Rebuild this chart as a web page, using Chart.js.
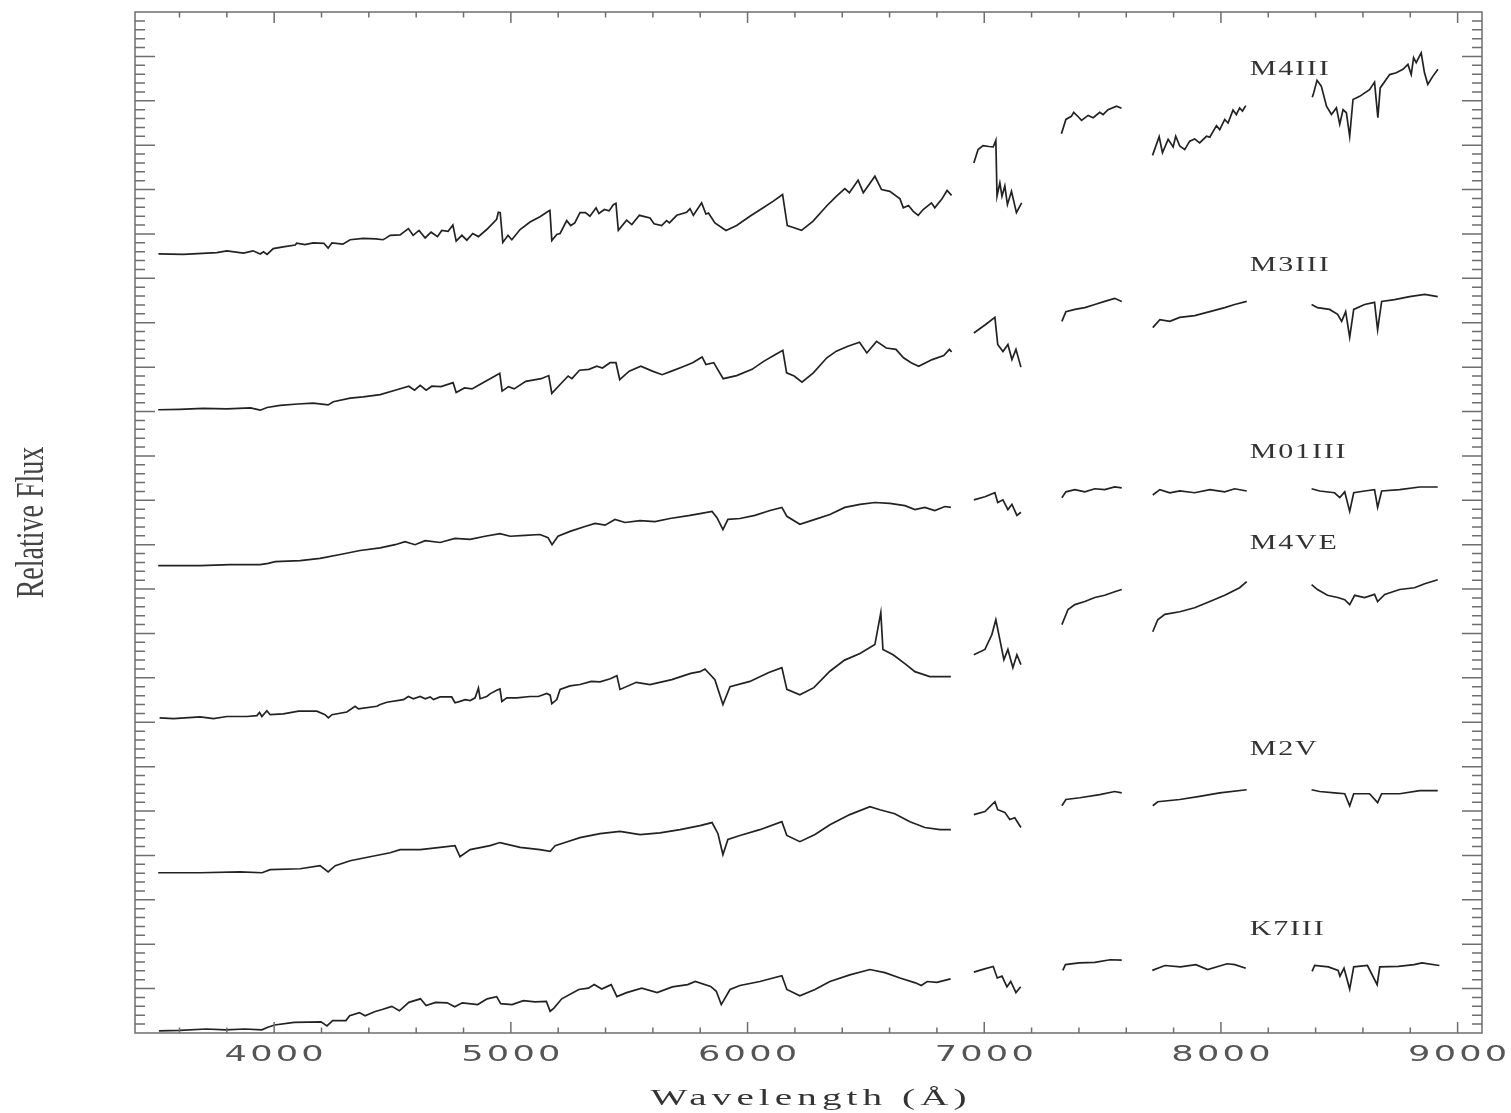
<!DOCTYPE html>
<html>
<head>
<meta charset="utf-8">
<script src="https://cdn.jsdelivr.net/npm/chart.js@4.4.1/dist/chart.umd.min.js"></script>
<style>
  html, body { margin: 0; padding: 0; background: #fff; }
  canvas { display: block; }
</style>
</head>
<body>
<canvas id="spectra" width="1511" height="1113"></canvas>
<script>
// [wavelength (Å), relative flux + offset], one sub-array per observed segment
const m4iii = [
  [[3511,17.55],[3616,17.54],[3758,17.58],[3800,17.62],[3870,17.57],[3911,17.62],[3941,17.55],[3955,17.60],[3970,17.54],[3996,17.67],[4038,17.71],[4089,17.75],[4095,17.79],[4130,17.76],[4165,17.80],[4210,17.79],[4228,17.68],[4244,17.80],[4290,17.77],[4321,17.87],[4376,17.90],[4430,17.89],[4460,17.87],[4470,17.90],[4490,17.97],[4532,17.98],[4567,18.12],[4587,17.97],[4612,18.08],[4638,17.91],[4663,18.04],[4690,17.94],[4708,18.08],[4735,18.06],[4755,18.20],[4769,17.84],[4793,17.97],[4814,17.86],[4839,18.01],[4863,17.94],[4898,18.10],[4940,18.33],[4947,18.49],[4955,18.48],[4966,17.81],[4988,17.97],[5004,17.87],[5039,18.10],[5081,18.27],[5123,18.39],[5158,18.51],[5165,18.53],[5173,17.85],[5194,17.99],[5208,18.01],[5236,18.30],[5253,18.19],[5270,18.25],[5292,18.48],[5315,18.48],[5334,18.40],[5360,18.59],[5372,18.46],[5395,18.55],[5415,18.52],[5433,18.66],[5444,18.69],[5454,18.08],[5489,18.31],[5511,18.21],[5543,18.42],[5588,18.36],[5605,18.23],[5637,18.19],[5658,18.30],[5670,18.25],[5701,18.42],[5743,18.49],[5757,18.57],[5771,18.42],[5806,18.70],[5824,18.45],[5835,18.47],[5862,18.25],[5909,18.08],[5954,18.19],[6010,18.40],[6066,18.59],[6109,18.74],[6148,18.89],[6168,18.19],[6190,18.15],[6228,18.08],[6277,18.29],[6334,18.63],[6376,18.85],[6411,19.02],[6430,18.93],[6467,19.21],[6489,18.93],[6538,19.30],[6566,19.00],[6601,18.96],[6644,18.79],[6658,18.59],[6680,18.64],[6700,18.51],[6721,18.42],[6742,18.55],[6777,18.70],[6791,18.59],[6820,18.78],[6843,18.98],[6862,18.87]],
  [[6956,19.60],[6974,19.90],[6995,19.99],[7020,19.97],[7038,19.96],[7049,20.11],[7054,18.85],[7066,19.15],[7075,18.85],[7087,19.08],[7098,18.66],[7115,18.96],[7136,18.48],[7158,18.70]],
  [[7326,20.26],[7345,20.58],[7368,20.65],[7378,20.74],[7397,20.64],[7411,20.56],[7439,20.67],[7460,20.62],[7488,20.74],[7502,20.69],[7523,20.80],[7559,20.88],[7580,20.83]],
  [[7711,19.77],[7739,20.19],[7753,19.83],[7777,20.13],[7798,19.96],[7809,20.20],[7826,19.98],[7847,19.90],[7868,20.09],[7889,20.14],[7910,20.05],[7939,20.20],[7953,20.18],[7981,20.44],[7995,20.35],[8016,20.58],[8030,20.50],[8051,20.79],[8065,20.69],[8079,20.84],[8091,20.77],[8105,20.89]],
  [[8386,21.08],[8392,21.18],[8406,21.46],[8424,21.33],[8446,20.88],[8467,20.69],[8488,20.84],[8502,20.47],[8516,20.80],[8530,20.73],[8544,20.20],[8558,21.03],[8586,21.10],[8628,21.25],[8649,21.42],[8663,20.62],[8673,21.29],[8713,21.59],[8741,21.63],[8769,21.71],[8790,21.82],[8804,21.59],[8814,21.97],[8825,21.86],[8846,22.08],[8860,21.63],[8874,21.37],[8895,21.55],[8917,21.71]]
];

const m3iii = [
  [[3510,14.04],[3600,14.05],[3700,14.07],[3800,14.06],[3900,14.08],[3941,14.03],[3970,14.09],[4025,14.14],[4100,14.17],[4165,14.19],[4228,14.15],[4250,14.22],[4321,14.30],[4376,14.33],[4448,14.38],[4511,14.48],[4569,14.57],[4593,14.48],[4617,14.59],[4642,14.48],[4666,14.57],[4705,14.56],[4756,14.65],[4769,14.43],[4804,14.53],[4836,14.51],[4869,14.61],[4933,14.80],[4953,14.86],[4963,14.46],[4990,14.56],[5014,14.51],[5063,14.68],[5128,14.74],[5160,14.81],[5173,14.41],[5201,14.57],[5242,14.80],[5258,14.74],[5290,14.93],[5330,14.95],[5363,15.02],[5387,14.98],[5419,15.10],[5444,15.10],[5460,14.72],[5500,14.91],[5549,15.02],[5598,14.91],[5639,14.83],[5679,14.91],[5727,15.01],[5768,15.10],[5808,15.23],[5824,15.06],[5857,15.10],[5897,14.74],[5954,14.81],[6019,14.95],[6068,15.13],[6116,15.28],[6149,15.38],[6165,14.87],[6197,14.80],[6230,14.66],[6278,14.87],[6335,15.21],[6375,15.36],[6424,15.47],[6473,15.56],[6504,15.32],[6545,15.58],[6586,15.43],[6627,15.40],[6659,15.21],[6691,15.10],[6723,15.02],[6780,15.17],[6829,15.26],[6853,15.40],[6862,15.34]],
  [[6956,15.77],[7003,15.95],[7045,16.12],[7057,15.51],[7079,15.35],[7100,15.51],[7117,15.17],[7134,15.40],[7155,15.00]],
  [[7328,16.03],[7345,16.25],[7383,16.30],[7425,16.34],[7467,16.41],[7509,16.48],[7551,16.55],[7581,16.48]],
  [[7712,15.89],[7742,16.07],[7784,16.03],[7826,16.12],[7889,16.16],[7953,16.25],[8016,16.34],[8058,16.41],[8109,16.48]],
  [[8383,16.41],[8408,16.34],[8459,16.30],[8493,16.19],[8510,16.03],[8527,16.25],[8544,15.67],[8561,16.30],[8607,16.41],[8649,16.46],[8662,15.84],[8679,16.48],[8734,16.52],[8797,16.59],[8861,16.64],[8916,16.59]]
];

const m01iii = [
  [[3510,10.53],[3687,10.53],[3814,10.55],[3941,10.55],[3975,10.58],[4004,10.62],[4110,10.64],[4194,10.69],[4279,10.78],[4363,10.87],[4448,10.93],[4511,11.00],[4553,11.07],[4595,11.00],[4638,11.09],[4701,11.05],[4764,11.14],[4828,11.12],[4891,11.19],[4954,11.25],[4997,11.19],[5060,11.21],[5123,11.23],[5157,11.16],[5174,11.00],[5199,11.19],[5250,11.30],[5313,11.41],[5356,11.48],[5398,11.44],[5440,11.57],[5482,11.50],[5546,11.54],[5609,11.52],[5672,11.59],[5757,11.66],[5799,11.70],[5850,11.75],[5871,11.61],[5896,11.34],[5917,11.57],[5968,11.59],[6031,11.66],[6095,11.77],[6145,11.84],[6166,11.64],[6221,11.46],[6285,11.57],[6348,11.68],[6411,11.84],[6475,11.91],[6538,11.95],[6601,11.93],[6665,11.88],[6707,11.79],[6749,11.84],[6791,11.77],[6834,11.86],[6859,11.84]],
  [[6956,12.01],[7003,12.08],[7045,12.17],[7057,11.95],[7079,12.01],[7100,11.79],[7117,11.91],[7138,11.66],[7155,11.73]],
  [[7328,12.06],[7345,12.19],[7383,12.24],[7425,12.19],[7467,12.26],[7509,12.24],[7551,12.30],[7581,12.28]],
  [[7712,12.12],[7742,12.24],[7784,12.17],[7826,12.21],[7889,12.17],[7953,12.24],[8016,12.19],[8058,12.26],[8109,12.21]],
  [[8383,12.26],[8417,12.21],[8480,12.17],[8502,12.06],[8523,12.19],[8544,11.75],[8561,12.17],[8607,12.21],[8649,12.24],[8662,11.84],[8679,12.21],[8755,12.24],[8840,12.30],[8916,12.30]]
];

const m4ve = [
  [[3516,7.10],[3575,7.08],[3687,7.12],[3744,7.08],[3800,7.13],[3885,7.13],[3927,7.15],[3938,7.22],[3948,7.13],[3969,7.26],[3983,7.17],[4039,7.19],[4103,7.25],[4180,7.25],[4215,7.17],[4229,7.10],[4244,7.17],[4307,7.23],[4342,7.36],[4356,7.30],[4434,7.36],[4448,7.40],[4476,7.45],[4546,7.51],[4567,7.58],[4588,7.53],[4617,7.58],[4638,7.53],[4659,7.57],[4673,7.51],[4701,7.57],[4750,7.57],[4764,7.44],[4785,7.47],[4807,7.51],[4828,7.49],[4849,7.55],[4863,7.77],[4870,7.53],[4898,7.58],[4912,7.64],[4940,7.72],[4954,7.75],[4962,7.47],[4983,7.55],[5025,7.55],[5081,7.58],[5116,7.58],[5152,7.65],[5166,7.61],[5173,7.42],[5194,7.51],[5208,7.74],[5250,7.82],[5292,7.85],[5340,7.92],[5377,7.91],[5420,7.98],[5448,8.05],[5461,7.74],[5530,7.90],[5588,7.85],[5680,7.96],[5760,8.10],[5799,8.14],[5820,8.20],[5862,7.96],[5896,7.40],[5926,7.80],[6010,7.92],[6090,8.12],[6145,8.23],[6166,7.74],[6221,7.62],[6280,7.78],[6348,8.15],[6410,8.40],[6475,8.55],[6538,8.75],[6563,9.47],[6572,8.64],[6615,8.52],[6670,8.30],[6707,8.14],[6770,8.03],[6859,8.03]],
  [[6956,8.52],[7003,8.64],[7032,8.97],[7049,9.31],[7066,8.86],[7083,8.41],[7100,8.64],[7121,8.23],[7138,8.52],[7155,8.30]],
  [[7328,9.20],[7354,9.54],[7383,9.65],[7425,9.72],[7467,9.81],[7509,9.86],[7551,9.94],[7581,9.99]],
  [[7712,9.04],[7733,9.31],[7763,9.43],[7826,9.49],[7889,9.58],[7953,9.72],[8016,9.86],[8079,10.03],[8109,10.17]],
  [[8383,10.10],[8408,9.99],[8450,9.86],[8493,9.81],[8523,9.76],[8544,9.65],[8565,9.86],[8607,9.81],[8649,9.88],[8662,9.72],[8692,9.88],[8755,9.99],[8818,10.03],[8861,10.12],[8916,10.21]]
];

const m2v = [
  [[3510,3.61],[3687,3.61],[3856,3.63],[3949,3.61],[3983,3.68],[4110,3.70],[4194,3.77],[4228,3.63],[4258,3.77],[4321,3.88],[4405,3.97],[4490,4.06],[4532,4.13],[4617,4.13],[4701,4.18],[4764,4.22],[4785,3.97],[4828,4.13],[4912,4.22],[4954,4.29],[5039,4.18],[5123,4.13],[5166,4.09],[5187,4.22],[5229,4.29],[5292,4.40],[5377,4.49],[5461,4.54],[5546,4.47],[5630,4.51],[5715,4.58],[5799,4.67],[5850,4.74],[5875,4.49],[5896,4.02],[5917,4.36],[5968,4.45],[6052,4.58],[6145,4.76],[6166,4.45],[6221,4.31],[6285,4.47],[6348,4.69],[6432,4.92],[6517,5.10],[6559,5.03],[6622,4.94],[6686,4.76],[6749,4.63],[6813,4.58],[6859,4.58]],
  [[6956,4.92],[7003,4.99],[7045,5.21],[7057,5.03],[7087,4.97],[7108,4.81],[7129,4.85],[7155,4.63]],
  [[7328,5.12],[7345,5.26],[7404,5.30],[7488,5.37],[7551,5.44],[7581,5.41]],
  [[7712,5.12],[7733,5.21],[7826,5.26],[7910,5.33],[7995,5.41],[8109,5.48]],
  [[8383,5.48],[8417,5.44],[8480,5.41],[8523,5.39],[8544,5.12],[8561,5.39],[8628,5.39],[8662,5.19],[8679,5.39],[8755,5.39],[8840,5.46],[8916,5.46]]
];

const k7iii = [
  [[3513,0.05],[3602,0.06],[3713,0.09],[3795,0.07],[3876,0.09],[3948,0.07],[3973,0.13],[4002,0.18],[4084,0.24],[4198,0.25],[4223,0.16],[4247,0.28],[4303,0.28],[4319,0.39],[4360,0.46],[4384,0.39],[4424,0.48],[4456,0.53],[4497,0.60],[4529,0.50],[4569,0.69],[4618,0.77],[4642,0.62],[4682,0.69],[4731,0.68],[4763,0.59],[4795,0.68],[4860,0.64],[4900,0.77],[4940,0.82],[4957,0.66],[5005,0.64],[5053,0.73],[5102,0.70],[5150,0.71],[5166,0.49],[5182,0.56],[5215,0.77],[5287,0.98],[5328,1.01],[5352,1.09],[5384,0.99],[5408,1.05],[5424,1.09],[5448,0.82],[5489,0.91],[5553,1.01],[5618,0.91],[5682,1.04],[5747,1.09],[5779,1.16],[5844,1.05],[5868,0.94],[5889,0.64],[5926,0.98],[5968,1.07],[6052,1.16],[6145,1.29],[6166,0.98],[6221,0.84],[6285,0.98],[6348,1.16],[6432,1.31],[6517,1.43],[6580,1.36],[6644,1.24],[6709,1.13],[6734,1.07],[6759,1.16],[6800,1.14],[6858,1.22]],
  [[6956,1.37],[6998,1.44],[7038,1.50],[7055,1.24],[7075,1.28],[7096,1.04],[7112,1.16],[7134,0.91],[7154,1.04]],
  [[7332,1.41],[7343,1.54],[7401,1.58],[7467,1.59],[7532,1.65],[7581,1.64]],
  [[7710,1.41],[7763,1.52],[7829,1.49],[7894,1.54],[7944,1.43],[8026,1.56],[8059,1.54],[8105,1.46]],
  [[8385,1.39],[8396,1.52],[8454,1.49],[8495,1.41],[8503,1.28],[8520,1.46],[8544,0.99],[8561,1.49],[8619,1.52],[8660,1.09],[8671,1.49],[8750,1.50],[8816,1.54],[8849,1.58],[8923,1.52]]
];

const spectra = [m4iii, m3iii, m01iii, m4ve, m2v, k7iii];
const starNames = ['M4III', 'M3III', 'M01III', 'M4VE', 'M2V', 'K7III'];
const labelWave = 8122;
const labelFlux = [21.73, 17.31, 13.10, 11.05, 6.41, 2.35];
const xTickValues = [4000, 5000, 6000, 7000, 8000, 9000];

// put a null between segments so the line breaks at the gaps
function joinSegments(segs) {
  const out = [];
  segs.forEach((seg, i) => {
    if (i > 0) out.push([seg[0][0] - 1, null]);
    out.push(...seg);
  });
  return out;
}

// wide, stretched lettering in the style of plotter fonts
function spacedText(ctx, text, x, y, font, sx, spacing, align) {
  ctx.save();
  ctx.font = font;
  ctx.letterSpacing = spacing + 'px';
  const w = (ctx.measureText(text).width - spacing) * sx;
  const left = align === 'center' ? x - w / 2 : x;
  ctx.translate(left, y);
  ctx.scale(sx, 1);
  ctx.textAlign = 'left';
  ctx.textBaseline = 'alphabetic';
  ctx.fillText(text, 0, 0);
  ctx.restore();
}

// box, inward ticks on all four sides, and the text
const frame = {
  id: 'frame',
  afterDraw(chart) {
    const { ctx, chartArea: a, scales: { x, y } } = chart;
    ctx.save();
    ctx.strokeStyle = '#6e6e6e';
    ctx.lineWidth = 1.5;
    ctx.strokeRect(a.left, a.top, a.right - a.left, a.bottom - a.top);
    ctx.beginPath();
    for (let w = 3600; w <= 9000; w += 200) {
      const px = x.getPixelForValue(w);
      const len = w % 1000 === 0 ? 11 : 5.5;
      ctx.moveTo(px, a.bottom); ctx.lineTo(px, a.bottom - len);
      ctx.moveTo(px, a.top); ctx.lineTo(px, a.top + len);
    }
    for (let k = 1; k < 115; k++) {
      const py = y.getPixelForValue(k / 5);
      const len = k % 5 === 0 ? 20 : 10;
      ctx.moveTo(a.left, py); ctx.lineTo(a.left + len, py);
      ctx.moveTo(a.right, py); ctx.lineTo(a.right - len, py);
    }
    ctx.stroke();

    ctx.fillStyle = '#555';
    xTickValues.forEach(v => {
      spacedText(ctx, String(v), x.getPixelForValue(v), 1061, '22px "DejaVu Sans"', 1.6, 2, 'center');
    });
    ctx.fillStyle = '#333';
    spacedText(ctx, 'Wavelength (Å)', (a.left + a.right) / 2, 1105, '23px "Liberation Serif"', 1.7, 3, 'center');

    ctx.save();
    ctx.fillStyle = '#444';
    ctx.translate(43, (a.top + a.bottom) / 2);
    ctx.rotate(-Math.PI / 2);
    ctx.scale(0.7, 1);
    ctx.font = '40px "Liberation Serif"';
    ctx.textAlign = 'center';
    ctx.textBaseline = 'alphabetic';
    ctx.fillText('Relative Flux', 0, 0);
    ctx.restore();

    ctx.fillStyle = '#333';
    starNames.forEach((name, i) => {
      spacedText(ctx, name, x.getPixelForValue(labelWave), y.getPixelForValue(labelFlux[i]) + 6.5,
        '20px "Liberation Serif"', 1.5, 1.2, 'left');
    });
    ctx.restore();
  }
};

new Chart(document.getElementById('spectra'), {
  type: 'line',
  data: {
    datasets: spectra.map((segs, i) => ({
      label: starNames[i],
      data: joinSegments(segs),
      borderColor: '#222',
      borderWidth: 1.7,
      pointRadius: 0,
      tension: 0,
      spanGaps: false
    }))
  },
  options: {
    responsive: false,
    animation: false,
    devicePixelRatio: 1,
    layout: { padding: { left: 135, right: 29, top: 12, bottom: 80 } },
    plugins: { legend: { display: false }, tooltip: { enabled: false } },
    scales: {
      x: { type: 'linear', min: 3412, max: 9103, display: false },
      y: { type: 'linear', min: 0, max: 23, display: false }
    }
  },
  plugins: [frame]
});
</script>
</body>
</html>
